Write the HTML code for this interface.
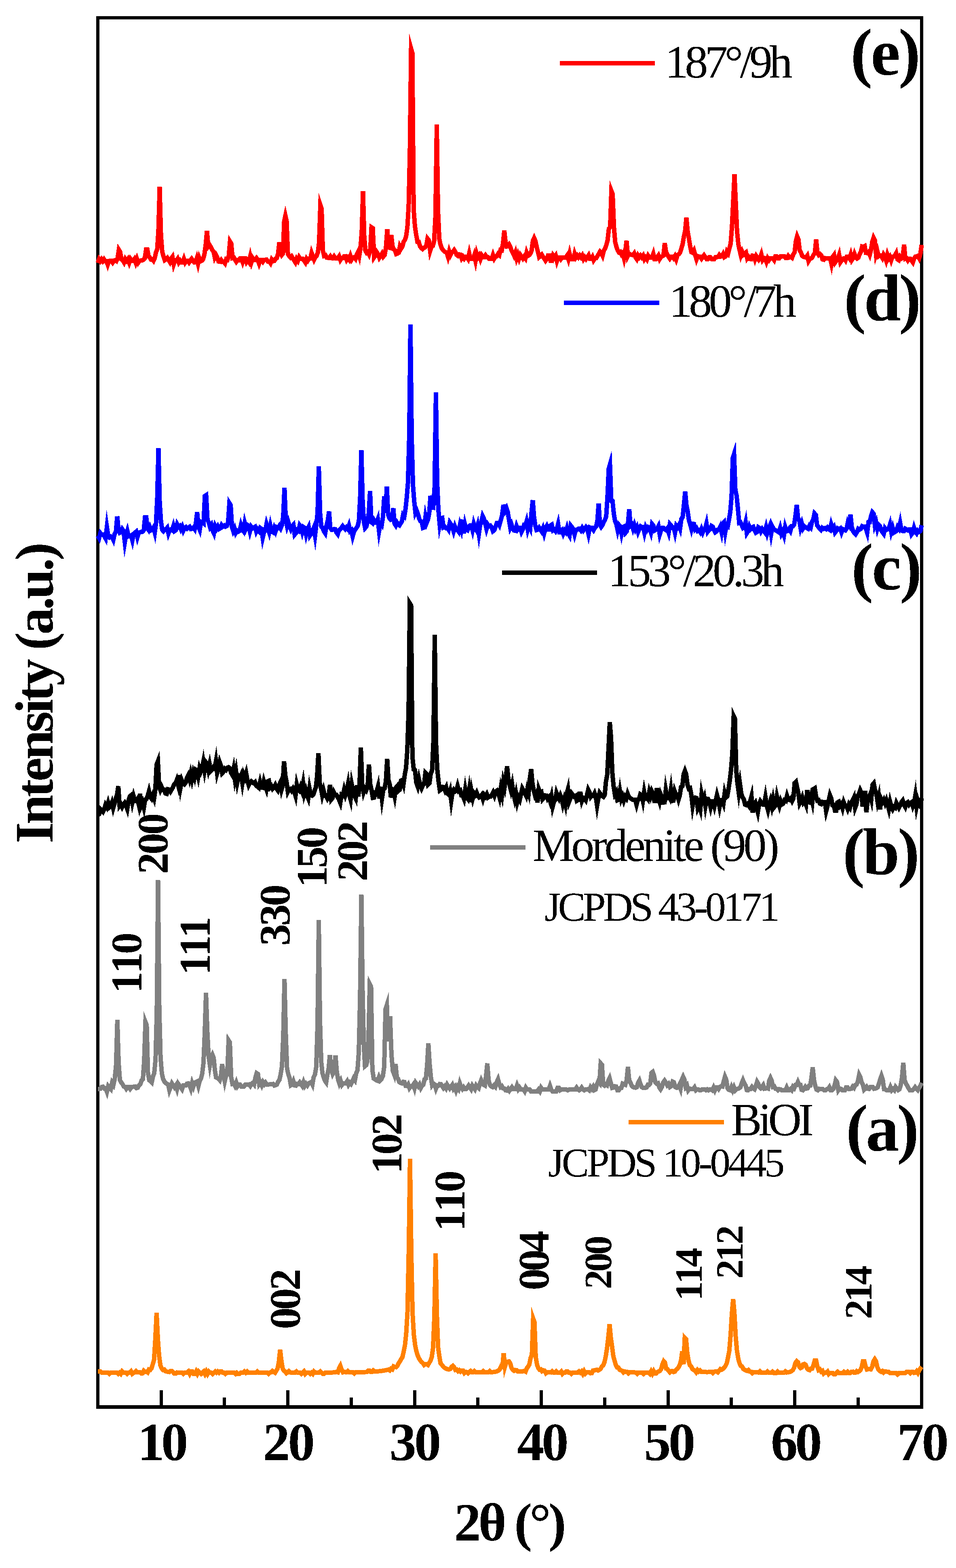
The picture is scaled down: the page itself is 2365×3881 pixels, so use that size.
<!DOCTYPE html>
<html lang="en"><head><meta charset="utf-8"><title>XRD patterns</title>
<style>html,body{margin:0;padding:0;background:#fff;overflow:hidden}svg{display:block}text{font-family:"Liberation Serif","DejaVu Serif",serif;fill:#000;font-kerning:none;font-variant-ligatures:none;white-space:pre}.b{font-weight:bold}</style></head>
<body>
<svg width="2365" height="3881" viewBox="0 0 2365 3881" shape-rendering="crispEdges" text-rendering="geometricPrecision" role="img" aria-label="XRD patterns">
<rect x="0" y="0" width="2365" height="3881" fill="#fff"/>
<defs><filter id="bin" filterUnits="userSpaceOnUse" x="0" y="0" width="2365" height="3881" color-interpolation-filters="sRGB"><feComponentTransfer><feFuncA type="discrete" tableValues="0 1"/></feComponentTransfer></filter></defs>
<g filter="url(#bin)">
<text transform="translate(1644.94,191.50)" font-size="115.00" letter-spacing="-8.319">187°/9h</text>
<text transform="translate(1654.94,783.50)" font-size="115.00" letter-spacing="-8.369">180°/7h</text>
<text transform="translate(1503.74,1450.80)" font-size="115.00" letter-spacing="-8.096">153°/20.3h</text>
<text transform="translate(1317.65,2131.00)" font-size="115.00" letter-spacing="-6.843">Mordenite (90)</text>
<text transform="translate(1347.15,2279.00)" font-size="102.50" letter-spacing="-6.786">JCPDS 43-0171</text>
<text transform="translate(1808.35,2810.00)" font-size="115.00" letter-spacing="-8.375">BiOI</text>
<text transform="translate(1355.87,2911.50)" font-size="101.50" letter-spacing="-5.960">JCPDS 10-0445</text>
<text transform="translate(2103.90,184.50)" font-size="164.50" letter-spacing="-4.695" class="b">(e)</text>
<text transform="translate(2087.40,793.30)" font-size="164.50" letter-spacing="-4.848" class="b">(d)</text>
<text transform="translate(2105.90,1459.00)" font-size="164.50" letter-spacing="-3.895" class="b">(c)</text>
<text transform="translate(2084.40,2164.00)" font-size="164.50" letter-spacing="-5.248" class="b">(b)</text>
<text transform="translate(2092.80,2847.60)" font-size="164.50" letter-spacing="-5.524" class="b">(a)</text>
<text transform="translate(340.32,3614.40)" font-size="133.50" letter-spacing="-8.314" class="b">10</text>
<text transform="translate(650.53,3614.40)" font-size="133.50" letter-spacing="-5.020" class="b">20</text>
<text transform="translate(963.19,3614.40)" font-size="133.50" letter-spacing="-5.287" class="b">30</text>
<text transform="translate(1279.21,3614.40)" font-size="133.50" letter-spacing="-6.000" class="b">40</text>
<text transform="translate(1592.96,3614.40)" font-size="133.50" letter-spacing="-5.954" class="b">50</text>
<text transform="translate(1906.83,3614.40)" font-size="133.50" letter-spacing="-6.621" class="b">60</text>
<text transform="translate(2219.12,3614.40)" font-size="133.50" letter-spacing="-5.718" class="b">70</text>
<text transform="translate(1123.33,3812.60)" font-size="133.50" letter-spacing="-6.942" class="b">2θ (°)</text>
<text transform="translate(130.30,2087.16) rotate(-90)" font-size="134.00" letter-spacing="-6.197" class="b">Intensity (a.u.)</text>
<text transform="translate(349.50,2458.64) rotate(-90)" font-size="108.00" letter-spacing="-5.505" class="b">110</text>
<text transform="translate(414.50,2163.89) rotate(-90)" font-size="108.00" letter-spacing="-5.280" class="b">200</text>
<text transform="translate(518.50,2414.14) rotate(-90)" font-size="108.00" letter-spacing="-7.945" class="b">111</text>
<text transform="translate(716.50,2340.85) rotate(-90)" font-size="108.00" letter-spacing="-5.050" class="b">330</text>
<text transform="translate(808.00,2197.34) rotate(-90)" font-size="108.00" letter-spacing="-5.455" class="b">150</text>
<text transform="translate(907.50,2181.49) rotate(-90)" font-size="108.00" letter-spacing="-6.060" class="b">202</text>
<text transform="translate(741.70,3289.85) rotate(-90)" font-size="108.00" letter-spacing="-6.130" class="b">002</text>
<text transform="translate(993.00,2905.64) rotate(-90)" font-size="108.00" letter-spacing="-6.485" class="b">102</text>
<text transform="translate(1148.80,3048.24) rotate(-90)" font-size="108.00" letter-spacing="-5.355" class="b">110</text>
<text transform="translate(1356.60,3193.85) rotate(-90)" font-size="108.00" letter-spacing="-6.880" class="b">004</text>
<text transform="translate(1512.00,3190.78) rotate(-90)" font-size="96.00" letter-spacing="-5.560" class="b">200</text>
<text transform="translate(1736.40,3219.48) rotate(-90)" font-size="96.00" letter-spacing="-6.420" class="b">114</text>
<text transform="translate(1837.40,3165.38) rotate(-90)" font-size="96.00" letter-spacing="-5.520" class="b">212</text>
<text transform="translate(2155.80,3264.68) rotate(-90)" font-size="96.00" letter-spacing="-5.820" class="b">214</text>
</g>
<rect x="242.0" y="43.5" width="2038.0" height="3438.8" fill="none" stroke="#000" stroke-width="8"/>
<rect x="238" y="3478" width="2046" height="9" fill="#000"/>
<line x1="398.6" y1="3482.3" x2="398.6" y2="3440.8" stroke="#000" stroke-width="8"/>
<line x1="555.3" y1="3482.3" x2="555.3" y2="3458.8" stroke="#000" stroke-width="8"/>
<line x1="712.0" y1="3482.3" x2="712.0" y2="3440.8" stroke="#000" stroke-width="8"/>
<line x1="868.8" y1="3482.3" x2="868.8" y2="3458.8" stroke="#000" stroke-width="8"/>
<line x1="1025.5" y1="3482.3" x2="1025.5" y2="3440.8" stroke="#000" stroke-width="8"/>
<line x1="1182.3" y1="3482.3" x2="1182.3" y2="3458.8" stroke="#000" stroke-width="8"/>
<line x1="1339.0" y1="3482.3" x2="1339.0" y2="3440.8" stroke="#000" stroke-width="8"/>
<line x1="1495.8" y1="3482.3" x2="1495.8" y2="3458.8" stroke="#000" stroke-width="8"/>
<line x1="1652.5" y1="3482.3" x2="1652.5" y2="3440.8" stroke="#000" stroke-width="8"/>
<line x1="1809.3" y1="3482.3" x2="1809.3" y2="3458.8" stroke="#000" stroke-width="8"/>
<line x1="1966.0" y1="3482.3" x2="1966.0" y2="3440.8" stroke="#000" stroke-width="8"/>
<line x1="2122.8" y1="3482.3" x2="2122.8" y2="3458.8" stroke="#000" stroke-width="8"/>
<line x1="1384.5" y1="156.8" x2="1620.0" y2="156.8" stroke="#ff0000" stroke-width="11"/>
<line x1="1395.3" y1="749.0" x2="1631.0" y2="749.0" stroke="#0000ff" stroke-width="11"/>
<line x1="1241.8" y1="1417.2" x2="1477.4" y2="1417.2" stroke="#000000" stroke-width="11"/>
<line x1="1064.0" y1="2097.7" x2="1299.8" y2="2097.7" stroke="#808080" stroke-width="11"/>
<line x1="1555.3" y1="2777.3" x2="1791.0" y2="2777.3" stroke="#ff8000" stroke-width="11"/>
<polyline points="242.0,3394.4 245.2,3394.4 248.3,3394.4 251.5,3397.4 254.6,3397.4 257.8,3397.4 261.0,3397.4 264.1,3397.4 267.3,3397.4 270.4,3400.4 273.6,3397.4 276.8,3397.4 279.9,3397.4 283.1,3397.4 286.3,3397.4 289.4,3397.4 292.6,3400.4 295.7,3397.4 298.9,3400.4 302.1,3394.3 305.2,3397.3 308.4,3397.3 311.5,3397.3 314.7,3400.3 317.9,3397.2 321.0,3397.2 324.2,3394.2 327.3,3400.1 330.5,3397.1 333.7,3397.0 336.8,3393.9 340.0,3396.8 343.1,3396.7 346.3,3396.6 349.5,3399.4 352.6,3399.1 355.8,3392.8 359.0,3395.4 362.1,3394.8 365.3,3397.0 368.4,3389.7 371.6,3390.7 374.8,3387.0 377.9,3376.7 381.1,3365.6 384.2,3315.5 387.4,3249.0 390.6,3315.3 393.7,3356.4 396.9,3379.7 400.0,3387.0 403.2,3390.7 406.3,3389.7 409.5,3394.0 412.6,3394.9 415.8,3395.5 418.9,3395.9 422.1,3393.2 425.2,3393.4 428.4,3396.6 431.5,3399.8 434.7,3399.9 437.8,3397.0 441.0,3397.1 444.1,3397.2 447.3,3397.2 450.4,3397.3 453.6,3400.3 456.7,3397.3 459.9,3397.4 463.0,3397.4 466.2,3394.4 469.3,3400.5 472.5,3394.5 475.6,3394.5 478.8,3400.5 481.9,3400.5 485.1,3394.6 488.2,3400.6 491.4,3394.6 494.5,3397.6 497.7,3400.6 500.8,3397.6 504.0,3394.6 507.1,3400.6 510.3,3394.6 513.4,3400.7 516.6,3394.7 519.7,3397.7 522.9,3397.7 526.0,3400.7 529.2,3397.7 532.3,3394.7 535.5,3397.7 538.6,3394.7 541.8,3397.7 544.9,3394.7 548.1,3394.7 551.2,3397.7 554.4,3397.7 557.5,3400.7 560.7,3397.7 563.8,3397.7 567.0,3397.7 570.1,3397.7 573.3,3397.7 576.4,3397.7 579.6,3397.7 582.7,3400.7 585.9,3397.7 589.0,3400.7 592.2,3400.7 595.3,3397.7 598.5,3397.7 601.6,3397.7 604.8,3394.7 607.9,3397.7 611.1,3394.7 614.2,3397.7 617.4,3397.7 620.5,3397.7 623.7,3397.7 626.8,3397.7 630.0,3397.7 633.1,3397.7 636.3,3394.6 639.4,3397.6 642.6,3397.6 645.7,3397.6 648.9,3397.5 652.0,3397.5 655.2,3397.5 658.3,3397.4 661.5,3397.3 664.6,3400.2 667.8,3397.0 670.9,3396.8 674.1,3393.4 677.2,3395.8 680.4,3397.8 683.5,3392.7 686.7,3387.4 689.8,3370.9 693.0,3341.0 696.1,3367.5 699.2,3387.2 702.3,3392.5 705.4,3394.7 708.5,3398.8 711.6,3396.4 714.7,3393.7 717.8,3397.0 720.9,3397.1 724.0,3397.2 727.1,3397.3 730.2,3397.4 733.4,3394.4 736.5,3397.5 739.6,3397.5 742.7,3397.5 745.8,3400.5 748.9,3397.6 752.0,3394.6 755.1,3400.6 758.2,3397.6 761.3,3397.6 764.4,3397.6 767.5,3400.6 770.6,3397.6 773.7,3400.6 776.8,3394.6 779.9,3397.6 783.0,3397.5 786.1,3397.5 789.2,3397.5 792.3,3394.5 795.4,3397.5 798.5,3400.5 801.6,3400.4 804.8,3397.4 807.9,3397.4 811.0,3397.3 814.1,3397.3 817.2,3397.2 820.3,3397.1 823.4,3397.0 826.5,3396.7 829.6,3396.3 832.7,3395.6 835.8,3396.6 838.9,3386.6 842.0,3380.7 845.1,3389.6 848.3,3396.5 851.4,3395.4 854.5,3396.1 857.7,3396.5 860.8,3393.6 863.9,3396.7 867.1,3396.7 870.2,3396.7 873.3,3396.7 876.5,3399.7 879.6,3396.7 882.7,3396.6 885.9,3396.5 889.0,3396.5 892.1,3396.4 895.3,3396.3 898.4,3396.2 901.5,3396.1 904.7,3396.0 907.8,3395.9 910.9,3392.8 914.1,3392.6 917.2,3395.5 920.3,3395.3 923.5,3392.1 926.6,3394.9 929.7,3394.7 932.8,3394.4 936.0,3394.1 939.1,3393.8 942.2,3393.4 945.4,3393.0 948.5,3392.6 951.6,3392.0 954.8,3391.4 957.9,3390.7 961.0,3389.9 964.2,3392.0 967.3,3387.9 970.4,3389.5 973.6,3382.0 976.7,3383.1 979.8,3383.8 983.0,3380.9 986.1,3374.4 989.2,3369.8 992.4,3364.0 995.5,3359.3 998.6,3345.7 1001.8,3330.0 1004.9,3300.5 1008.0,3248.3 1011.2,3095.5 1014.3,2867.8 1017.5,3101.1 1020.6,3249.8 1023.8,3304.0 1027.0,3329.7 1030.2,3344.9 1033.3,3355.0 1036.5,3362.2 1039.7,3367.4 1042.8,3371.2 1046.0,3373.8 1049.2,3378.6 1052.3,3376.5 1055.5,3376.5 1058.7,3378.5 1061.8,3373.0 1065.0,3368.2 1068.2,3358.5 1071.4,3335.2 1074.5,3259.2 1077.7,3102.0 1080.8,3254.9 1083.8,3334.3 1086.9,3357.0 1089.9,3374.5 1093.0,3377.9 1096.0,3382.0 1099.1,3384.9 1102.1,3386.9 1105.2,3388.3 1108.2,3389.1 1111.2,3389.4 1114.3,3388.3 1117.4,3382.7 1120.4,3380.5 1123.5,3384.1 1126.7,3390.6 1129.8,3389.8 1133.0,3393.8 1136.1,3391.4 1139.2,3394.8 1142.4,3392.2 1145.5,3392.4 1148.7,3398.6 1151.8,3395.8 1154.9,3396.0 1158.1,3399.1 1161.2,3396.2 1164.4,3393.3 1167.5,3396.4 1170.6,3396.5 1173.8,3393.6 1176.9,3396.6 1180.1,3396.7 1183.2,3396.7 1186.3,3396.7 1189.5,3396.8 1192.6,3396.8 1195.8,3393.8 1198.9,3396.8 1202.0,3396.7 1205.2,3396.7 1208.3,3396.6 1211.5,3393.5 1214.6,3396.4 1217.7,3396.2 1220.9,3395.9 1224.0,3395.4 1227.2,3394.8 1230.3,3393.8 1233.4,3392.1 1236.6,3388.8 1239.7,3381.7 1242.9,3382.7 1246.0,3349.7 1249.2,3382.7 1252.5,3371.6 1255.8,3370.3 1259.0,3369.6 1262.2,3374.1 1265.3,3385.7 1268.5,3390.6 1271.6,3392.9 1274.8,3391.0 1277.9,3391.6 1281.1,3394.9 1284.3,3395.0 1287.4,3394.9 1290.6,3394.7 1293.7,3394.1 1296.9,3393.3 1300.1,3395.0 1303.2,3386.7 1306.4,3382.7 1309.5,3377.5 1312.7,3361.2 1315.8,3353.5 1319.0,3263.5 1322.2,3272.5 1325.3,3358.2 1328.5,3377.6 1331.6,3385.9 1334.8,3390.1 1337.9,3389.4 1341.0,3393.9 1344.2,3391.8 1347.3,3392.5 1350.5,3399.0 1353.7,3396.4 1356.8,3396.6 1360.0,3396.8 1363.1,3397.0 1366.2,3394.2 1369.4,3397.3 1372.5,3397.4 1375.7,3394.4 1378.8,3397.5 1382.0,3397.5 1385.2,3397.6 1388.3,3394.6 1391.5,3400.6 1394.6,3397.6 1397.8,3397.7 1400.9,3394.7 1404.0,3394.7 1407.2,3397.7 1410.3,3397.6 1413.5,3400.6 1416.7,3397.6 1419.8,3397.6 1423.0,3397.5 1426.1,3397.5 1429.2,3397.5 1432.4,3394.4 1435.5,3397.3 1438.7,3394.2 1441.8,3400.1 1445.0,3394.0 1448.2,3399.9 1451.3,3396.7 1454.5,3396.5 1457.6,3396.3 1460.8,3399.0 1463.9,3398.7 1467.0,3392.2 1470.2,3391.7 1473.3,3391.0 1476.5,3390.2 1479.7,3392.0 1482.8,3390.4 1486.0,3388.1 1489.1,3381.8 1492.2,3379.7 1495.4,3371.5 1498.5,3357.6 1501.7,3336.8 1504.8,3310.8 1508.0,3277.8 1511.1,3310.8 1514.2,3333.1 1517.3,3357.0 1520.5,3368.0 1523.6,3379.3 1526.7,3384.5 1529.8,3384.9 1532.9,3390.2 1536.0,3391.8 1539.2,3393.0 1542.3,3396.9 1545.4,3394.6 1548.5,3395.2 1551.6,3395.6 1554.7,3399.0 1557.9,3396.2 1561.0,3396.5 1564.1,3396.7 1567.2,3396.8 1570.3,3397.0 1573.4,3397.1 1576.6,3400.2 1579.7,3397.2 1582.8,3397.3 1585.9,3397.3 1589.0,3397.4 1592.1,3400.4 1595.3,3397.4 1598.4,3397.4 1601.5,3397.4 1604.6,3397.3 1607.7,3400.3 1610.8,3394.2 1614.0,3400.1 1617.1,3393.9 1620.2,3399.6 1623.3,3399.3 1626.4,3395.7 1629.5,3394.7 1632.7,3392.8 1635.8,3388.3 1638.9,3376.4 1642.0,3369.3 1645.1,3372.8 1648.1,3387.4 1651.2,3388.6 1654.2,3393.2 1657.3,3396.8 1660.4,3393.9 1663.4,3393.6 1666.5,3395.9 1669.5,3394.9 1672.6,3390.3 1675.6,3387.9 1678.7,3384.1 1681.8,3377.9 1684.8,3367.0 1687.9,3344.4 1690.9,3377.1 1694.0,3311.0 1697.2,3314.3 1700.3,3348.9 1703.5,3368.3 1706.6,3378.9 1709.8,3381.9 1712.9,3388.5 1716.0,3390.8 1719.2,3392.4 1722.3,3396.5 1725.5,3391.2 1728.7,3394.8 1731.8,3392.2 1735.0,3395.5 1738.1,3395.7 1741.2,3395.9 1744.4,3395.9 1747.5,3396.0 1750.7,3396.0 1753.9,3395.9 1757.0,3395.8 1760.2,3395.6 1763.3,3398.4 1766.5,3395.1 1769.6,3394.7 1772.8,3394.2 1775.9,3396.5 1779.0,3392.7 1782.2,3388.6 1785.3,3390.1 1788.5,3388.0 1791.7,3385.0 1794.8,3380.6 1798.0,3373.8 1801.1,3359.6 1804.2,3343.1 1807.4,3304.9 1810.5,3252.2 1813.7,3215.0 1816.8,3249.1 1820.0,3307.8 1823.1,3343.1 1826.3,3362.7 1829.4,3373.9 1832.6,3380.8 1835.7,3382.2 1838.9,3388.2 1842.0,3390.4 1845.2,3391.9 1848.3,3393.1 1851.5,3391.0 1854.6,3394.7 1857.7,3395.2 1860.9,3398.7 1864.0,3396.1 1867.2,3396.4 1870.3,3396.7 1873.5,3396.9 1876.6,3397.1 1879.8,3394.2 1882.9,3397.4 1886.1,3397.5 1889.2,3397.6 1892.3,3397.7 1895.5,3397.7 1898.6,3394.8 1901.8,3397.9 1904.9,3397.9 1908.1,3397.9 1911.2,3395.0 1914.4,3398.0 1917.5,3398.0 1920.7,3398.0 1923.8,3394.9 1927.0,3397.9 1930.1,3397.9 1933.2,3397.8 1936.4,3397.7 1939.5,3397.5 1942.7,3394.3 1945.8,3397.1 1949.0,3396.7 1952.1,3396.1 1955.3,3395.2 1958.4,3393.6 1961.6,3390.8 1964.7,3384.9 1967.9,3372.9 1971.0,3369.0 1974.2,3371.9 1977.3,3382.5 1980.5,3386.1 1983.7,3384.5 1986.8,3377.0 1990.0,3376.0 1993.2,3378.0 1996.4,3386.7 1999.6,3390.4 2002.8,3391.4 2006.1,3387.5 2009.3,3387.2 2012.5,3378.7 2015.7,3367.0 2018.8,3367.0 2022.0,3382.2 2025.1,3391.2 2028.3,3389.5 2031.4,3394.7 2034.5,3392.9 2037.7,3399.7 2040.8,3397.2 2044.0,3397.5 2047.1,3394.8 2050.2,3401.0 2053.4,3398.1 2056.5,3398.2 2059.7,3398.3 2062.8,3401.4 2065.9,3401.5 2069.1,3398.5 2072.2,3395.5 2075.3,3398.5 2078.5,3398.6 2081.6,3398.6 2084.8,3398.6 2087.9,3395.6 2091.0,3398.5 2094.2,3398.5 2097.3,3395.4 2100.5,3398.4 2103.6,3398.3 2106.7,3395.1 2109.9,3395.0 2113.0,3397.7 2116.2,3397.4 2119.3,3393.8 2122.4,3395.9 2125.6,3394.2 2128.7,3390.9 2131.9,3383.0 2135.0,3369.0 2138.2,3369.0 2141.4,3382.7 2144.7,3389.6 2147.9,3388.8 2151.1,3388.6 2154.3,3389.3 2157.6,3383.1 2160.8,3369.3 2164.0,3364.2 2167.1,3369.1 2170.3,3383.4 2173.4,3390.3 2176.5,3393.6 2179.7,3395.4 2182.8,3393.5 2185.9,3397.2 2189.1,3394.6 2192.2,3394.9 2195.4,3395.2 2198.5,3395.4 2201.6,3398.5 2204.8,3398.6 2207.9,3398.7 2211.0,3398.8 2214.2,3398.8 2217.3,3398.9 2220.4,3401.9 2223.6,3398.9 2226.7,3398.9 2229.8,3398.9 2233.0,3399.0 2236.1,3398.9 2239.2,3398.9 2242.4,3395.9 2245.5,3395.9 2248.6,3395.8 2251.8,3398.7 2254.9,3395.6 2258.1,3395.4 2261.2,3398.1 2264.3,3397.6 2267.5,3393.8 2270.6,3398.3 2273.7,3392.3 2276.9,3387.0 2280.0,3383.0" fill="none" stroke="#ff8000" stroke-width="11" stroke-linejoin="miter" stroke-miterlimit="8"/>
<polyline points="242.0,2695.3 245.2,2695.1 248.4,2694.9 251.7,2690.2 254.9,2689.9 258.1,2694.1 261.3,2693.8 264.5,2702.4 267.8,2688.3 271.0,2692.1 274.2,2695.4 277.4,2679.9 280.6,2684.9 283.9,2670.1 287.1,2636.4 290.3,2524.6 293.5,2630.1 296.6,2673.3 299.8,2679.1 302.9,2682.9 306.1,2689.1 309.3,2690.0 312.4,2694.9 315.6,2690.6 318.7,2690.6 321.9,2695.1 325.1,2690.4 328.2,2690.1 331.4,2689.8 334.5,2689.3 337.7,2693.2 340.8,2692.2 344.0,2686.3 347.2,2683.8 350.3,2674.5 353.5,2671.3 356.6,2627.0 359.8,2529.1 362.9,2536.9 366.0,2654.2 369.2,2673.7 372.3,2675.9 375.4,2678.9 378.5,2664.5 381.6,2656.2 384.8,2621.7 387.9,2501.2 391.0,2177.8 394.1,2496.9 397.2,2617.6 400.4,2656.9 403.5,2670.4 406.6,2676.9 409.7,2680.5 412.8,2682.7 416.0,2684.1 419.1,2698.5 422.2,2690.2 425.3,2681.6 428.5,2686.5 431.6,2691.2 434.7,2686.9 437.8,2696.0 440.9,2682.5 444.1,2687.1 447.2,2691.5 450.3,2696.0 453.4,2686.9 456.5,2686.8 459.7,2686.7 462.8,2682.0 465.9,2681.8 469.0,2686.0 472.1,2694.6 475.3,2680.7 478.4,2689.1 481.5,2679.3 484.6,2678.3 487.8,2676.8 490.9,2688.1 494.0,2675.7 497.1,2669.7 500.2,2657.9 503.4,2630.7 506.5,2556.6 509.6,2457.0 512.8,2550.6 516.0,2613.0 519.2,2635.7 522.4,2617.4 525.6,2610.7 528.6,2618.1 531.6,2648.9 534.6,2666.8 537.6,2668.2 540.6,2670.4 543.6,2673.7 546.6,2663.0 549.6,2634.0 552.8,2659.2 556.0,2676.5 559.1,2662.6 562.3,2659.4 565.5,2574.9 568.7,2580.0 571.8,2665.1 575.0,2682.4 578.1,2681.1 581.3,2687.2 584.5,2679.1 587.6,2688.6 590.8,2684.4 593.9,2684.6 597.1,2689.2 600.2,2689.3 603.4,2689.3 606.6,2684.7 609.7,2684.6 612.9,2684.4 616.0,2684.0 619.2,2687.9 622.4,2682.3 625.5,2680.0 628.7,2684.0 631.8,2667.3 635.0,2656.2 638.1,2658.1 641.3,2683.8 644.4,2679.8 647.5,2686.5 650.6,2678.6 653.8,2683.7 656.9,2679.5 660.0,2684.1 663.1,2684.1 666.3,2684.0 669.4,2683.8 672.5,2683.5 675.7,2683.0 678.8,2686.9 681.9,2685.8 685.0,2684.3 688.2,2677.2 691.3,2672.6 694.4,2658.7 697.5,2639.8 700.7,2564.9 703.8,2422.7 706.9,2556.4 710.1,2644.5 713.2,2658.7 716.4,2668.0 719.5,2686.0 722.6,2684.0 725.8,2676.5 728.9,2686.5 732.1,2687.1 735.2,2683.0 738.3,2683.2 741.5,2678.9 744.6,2683.4 747.8,2687.9 750.9,2678.7 754.1,2687.5 757.2,2682.6 760.3,2686.6 763.5,2681.3 766.6,2680.2 769.8,2678.4 772.9,2684.5 776.0,2665.9 779.2,2659.6 782.3,2641.0 785.5,2536.9 788.6,2277.0 791.6,2525.9 794.7,2628.0 797.7,2656.3 800.8,2666.6 803.8,2674.9 806.9,2679.2 809.9,2659.9 813.0,2644.7 816.0,2611.7 819.5,2647.0 823.0,2658.4 826.5,2652.1 830.0,2612.0 833.2,2652.7 836.4,2671.9 839.6,2681.9 842.8,2675.1 846.0,2685.2 849.2,2681.1 852.4,2681.2 855.6,2681.1 858.8,2676.3 862.0,2684.8 865.2,2679.5 868.4,2682.8 871.6,2676.5 874.8,2669.2 878.0,2673.6 881.2,2656.5 884.4,2649.1 887.6,2603.8 890.8,2467.1 894.0,2214.2 897.0,2451.0 899.9,2583.6 902.9,2638.9 905.8,2636.5 908.8,2626.7 911.7,2564.2 914.7,2435.4 918.0,2442.0 921.2,2648.0 924.5,2669.3 927.7,2671.2 931.0,2674.0 934.2,2675.1 937.5,2666.0 940.7,2673.6 944.0,2670.3 947.2,2663.0 950.5,2639.8 953.7,2497.8 957.0,2487.6 959.7,2577.6 962.3,2556.7 965.0,2515.0 968.4,2610.4 971.8,2650.4 975.2,2659.5 978.6,2634.0 981.7,2666.6 984.8,2670.1 988.0,2678.5 991.1,2680.4 994.2,2681.5 997.3,2677.7 1000.4,2678.2 1003.6,2687.7 1006.7,2688.1 1009.8,2683.9 1012.9,2693.2 1016.0,2688.9 1019.1,2689.1 1022.3,2684.7 1025.4,2693.8 1028.5,2680.3 1031.6,2684.8 1034.7,2689.1 1037.9,2684.3 1041.0,2692.7 1044.1,2687.0 1047.2,2684.9 1050.3,2671.5 1053.5,2669.5 1056.6,2637.2 1059.7,2582.0 1062.8,2632.8 1065.9,2665.5 1069.0,2685.8 1072.1,2681.6 1075.3,2684.1 1078.4,2694.5 1081.5,2686.5 1084.6,2687.1 1087.7,2683.1 1090.8,2683.5 1093.9,2688.3 1097.0,2693.1 1100.2,2688.9 1103.3,2693.6 1106.4,2684.8 1109.5,2689.5 1112.6,2694.1 1115.7,2689.8 1118.8,2685.4 1121.9,2694.6 1125.1,2690.2 1128.2,2699.3 1131.3,2690.5 1134.4,2695.1 1137.5,2681.7 1140.6,2690.8 1143.7,2695.4 1146.8,2691.0 1149.9,2695.6 1153.1,2695.7 1156.2,2691.3 1159.3,2686.9 1162.4,2691.4 1165.5,2696.0 1168.6,2687.0 1171.7,2691.4 1174.8,2695.8 1178.0,2686.5 1181.1,2690.4 1184.2,2693.1 1187.3,2682.0 1190.4,2673.6 1193.4,2680.3 1196.4,2685.2 1199.5,2686.8 1202.5,2662.3 1205.5,2632.0 1208.8,2674.7 1212.1,2685.2 1215.4,2689.3 1218.8,2690.7 1222.1,2686.5 1225.4,2689.8 1228.7,2678.7 1232.0,2671.3 1235.1,2682.9 1238.3,2690.6 1241.4,2688.2 1244.5,2693.6 1247.7,2694.1 1250.8,2698.9 1254.0,2699.2 1257.1,2694.9 1260.2,2699.6 1263.4,2695.2 1266.5,2690.9 1269.6,2695.5 1272.8,2695.7 1275.9,2695.8 1279.0,2686.9 1282.2,2696.0 1285.3,2691.7 1288.4,2696.3 1291.6,2696.4 1294.7,2696.5 1297.9,2701.1 1301.0,2692.2 1304.1,2696.7 1307.3,2696.7 1310.4,2696.7 1313.5,2701.2 1316.7,2701.3 1319.8,2701.3 1322.9,2701.3 1326.1,2701.3 1329.2,2701.3 1332.3,2696.8 1335.5,2701.3 1338.6,2692.3 1341.8,2696.8 1344.9,2696.8 1348.0,2696.8 1351.2,2696.8 1354.3,2696.8 1357.4,2696.8 1360.6,2687.8 1363.7,2696.8 1366.8,2701.3 1370.0,2701.2 1373.1,2701.2 1376.2,2701.2 1379.4,2692.2 1382.5,2692.2 1385.7,2698.5 1388.8,2696.7 1391.9,2696.7 1395.1,2696.7 1398.2,2696.7 1401.3,2696.7 1404.5,2698.5 1407.6,2696.7 1410.7,2696.6 1413.9,2696.6 1417.0,2696.6 1420.1,2696.6 1423.3,2696.6 1426.4,2692.0 1429.6,2696.5 1432.7,2698.5 1435.8,2696.4 1439.0,2691.9 1442.1,2696.3 1445.2,2698.5 1448.4,2696.2 1451.5,2696.1 1454.6,2695.9 1457.8,2698.5 1460.9,2691.0 1464.0,2695.1 1467.2,2690.0 1470.3,2698.2 1473.5,2696.6 1476.6,2684.5 1479.7,2677.0 1482.9,2680.7 1486.0,2631.8 1489.1,2635.1 1492.3,2685.0 1495.4,2687.1 1498.6,2684.0 1501.7,2686.1 1504.9,2675.0 1508.0,2668.6 1511.2,2680.8 1514.5,2692.6 1517.7,2691.8 1521.0,2688.7 1524.2,2689.3 1527.5,2698.5 1530.7,2698.4 1533.9,2693.5 1537.2,2692.7 1540.4,2682.1 1543.7,2683.4 1546.9,2685.0 1550.2,2674.0 1553.4,2641.0 1556.5,2674.0 1559.7,2679.7 1562.8,2687.2 1566.0,2690.4 1569.1,2691.8 1572.3,2692.1 1575.4,2690.9 1578.6,2680.0 1581.7,2674.5 1584.7,2683.9 1587.7,2690.9 1590.7,2692.5 1593.7,2692.8 1596.7,2692.4 1599.7,2691.4 1602.7,2684.9 1605.7,2685.4 1608.7,2681.7 1611.7,2655.8 1614.7,2653.0 1618.0,2662.1 1621.2,2679.0 1624.5,2682.1 1627.7,2681.0 1631.0,2691.5 1634.2,2696.2 1637.5,2690.4 1640.7,2679.1 1644.0,2674.6 1647.3,2679.6 1650.7,2686.2 1654.0,2682.8 1657.3,2690.5 1660.7,2688.3 1664.0,2677.4 1667.2,2679.0 1670.5,2690.4 1673.8,2692.1 1677.0,2692.0 1680.2,2685.9 1683.5,2694.7 1686.8,2672.5 1690.0,2665.2 1693.1,2672.0 1696.3,2690.1 1699.4,2686.3 1702.5,2698.5 1705.7,2694.3 1708.8,2695.0 1712.0,2695.4 1715.1,2695.7 1718.2,2691.4 1721.4,2698.5 1724.5,2696.1 1727.6,2696.2 1730.8,2698.5 1733.9,2698.5 1737.0,2696.3 1740.2,2696.4 1743.3,2696.4 1746.5,2698.5 1749.6,2696.4 1752.7,2698.5 1755.9,2696.4 1759.0,2696.3 1762.1,2698.5 1765.3,2691.7 1768.4,2698.5 1771.5,2691.4 1774.7,2691.2 1777.8,2695.3 1781.0,2690.0 1784.1,2688.5 1787.2,2689.2 1790.4,2676.5 1793.5,2664.9 1796.7,2672.3 1799.9,2693.8 1803.0,2697.5 1806.2,2698.5 1809.4,2690.6 1812.6,2698.5 1815.8,2691.0 1818.9,2698.5 1822.1,2695.3 1825.3,2694.8 1828.5,2693.7 1831.6,2690.9 1834.8,2681.4 1838.0,2673.6 1841.2,2681.4 1844.4,2686.3 1847.5,2698.1 1850.7,2698.5 1853.9,2695.0 1857.1,2695.0 1860.3,2690.2 1863.5,2693.9 1866.6,2696.0 1869.8,2687.9 1873.0,2677.5 1876.0,2682.5 1879.0,2691.0 1882.0,2693.6 1885.0,2690.0 1888.0,2685.8 1891.0,2694.7 1894.0,2694.2 1897.0,2693.0 1900.0,2694.1 1903.0,2674.1 1906.0,2667.9 1909.1,2674.7 1912.2,2690.1 1915.3,2688.9 1918.4,2694.7 1921.5,2695.4 1924.5,2698.5 1927.6,2695.9 1930.7,2696.1 1933.8,2698.5 1936.9,2698.5 1940.0,2698.5 1943.1,2698.5 1946.2,2691.6 1949.3,2698.5 1952.4,2698.5 1955.5,2695.7 1958.5,2698.5 1961.6,2690.1 1964.7,2693.3 1967.8,2685.6 1970.9,2685.4 1974.0,2678.0 1977.0,2685.0 1980.1,2685.3 1983.1,2697.4 1986.2,2698.5 1989.2,2694.6 1992.2,2690.1 1995.3,2694.3 1998.3,2693.6 2001.4,2687.2 2004.4,2687.0 2007.5,2667.1 2010.5,2642.0 2013.7,2672.8 2016.8,2687.8 2020.0,2696.8 2023.2,2698.5 2026.4,2694.9 2029.5,2695.4 2032.7,2695.7 2035.9,2695.8 2039.0,2698.5 2042.2,2698.5 2045.4,2695.9 2048.6,2695.7 2051.7,2691.0 2054.9,2698.5 2058.1,2698.4 2061.3,2695.8 2064.4,2686.8 2067.6,2673.8 2070.8,2678.0 2074.0,2698.5 2077.2,2694.0 2080.5,2695.0 2083.7,2698.5 2086.9,2698.5 2090.1,2698.5 2093.3,2691.2 2096.6,2691.2 2099.8,2695.5 2103.0,2695.2 2106.2,2694.8 2109.4,2689.6 2112.6,2692.8 2115.8,2685.7 2119.1,2684.1 2122.3,2676.7 2125.5,2660.2 2128.6,2666.5 2131.6,2678.6 2134.7,2685.0 2137.7,2696.8 2140.8,2693.7 2143.9,2690.0 2146.9,2694.9 2150.0,2695.2 2153.1,2690.8 2156.1,2690.8 2159.2,2690.6 2162.2,2694.9 2165.3,2694.3 2168.4,2693.3 2171.4,2691.2 2174.5,2681.6 2177.5,2671.3 2180.6,2662.7 2183.8,2672.2 2187.0,2695.7 2190.1,2696.1 2193.3,2698.5 2196.5,2698.5 2199.7,2698.5 2202.8,2690.8 2206.0,2698.5 2209.2,2695.4 2212.4,2698.5 2215.5,2690.5 2218.7,2694.5 2221.9,2698.0 2225.1,2695.9 2228.2,2685.9 2231.4,2667.8 2234.6,2630.0 2237.8,2673.0 2241.1,2681.9 2244.3,2687.1 2247.6,2693.7 2250.8,2698.5 2254.1,2698.5 2257.3,2698.5 2260.5,2695.6 2263.8,2691.0 2267.0,2695.2 2270.3,2698.5 2273.5,2692.8 2276.8,2687.6 2280.0,2680.0" fill="none" stroke="#808080" stroke-width="11" stroke-linejoin="miter" stroke-miterlimit="8"/>
<polyline points="242.0,2017.9 245.2,2015.3 248.3,2002.7 251.5,2006.1 254.7,2009.5 257.8,2002.9 261.0,1992.3 264.2,1997.7 267.4,1987.1 270.5,1998.4 273.7,1995.7 276.9,1987.0 280.0,2000.2 283.2,1989.1 286.4,1977.0 289.5,1967.8 292.7,1946.0 295.9,1994.6 299.0,1990.6 302.2,1997.5 305.3,1991.4 308.5,1987.1 311.6,1992.7 314.8,2002.1 318.0,1981.6 321.1,1971.1 324.3,1968.5 327.4,1985.9 330.6,1971.3 333.8,1982.7 336.9,1982.1 340.1,1977.5 343.2,1990.9 346.4,1964.3 349.5,1993.7 352.7,1986.3 355.9,1998.9 359.0,1979.4 362.2,1977.8 365.3,1970.2 368.5,1958.6 371.7,1972.8 374.8,1976.8 378.0,1968.3 381.1,1976.6 384.3,1955.2 387.4,1892.3 390.6,1884.2 393.7,1945.8 396.8,1955.3 400.0,1948.0 403.1,1954.9 406.2,1954.6 409.3,1963.8 412.4,1964.8 415.6,1953.6 418.7,1954.4 421.8,1959.1 424.9,1953.8 428.0,1948.4 431.2,1940.8 434.3,1938.7 437.4,1930.5 440.5,1942.4 443.6,1918.2 446.8,1948.0 449.9,1931.9 453.0,1939.7 456.1,1941.5 459.2,1937.3 462.4,1925.2 465.5,1919.0 468.6,1928.8 471.7,1914.8 474.8,1928.9 478.0,1913.1 481.1,1923.2 484.2,1905.3 487.3,1907.5 490.4,1921.6 493.6,1901.7 496.7,1909.8 499.8,1902.0 502.9,1886.1 506.0,1906.2 509.2,1886.4 512.3,1890.3 515.4,1904.9 518.5,1891.6 521.6,1908.2 524.8,1904.8 527.9,1899.4 531.0,1902.1 534.1,1884.7 537.2,1913.3 540.4,1901.9 543.5,1886.6 546.6,1895.2 549.7,1913.8 552.8,1910.4 556.0,1903.0 559.1,1905.7 562.2,1900.3 565.3,1898.9 568.4,1901.5 571.6,1912.6 574.7,1918.0 577.8,1903.5 580.9,1926.9 584.0,1910.4 587.2,1935.8 590.3,1921.3 593.4,1924.7 596.5,1918.2 599.6,1937.7 602.8,1917.1 605.9,1924.6 609.0,1914.0 612.1,1931.5 615.2,1942.9 618.4,1936.4 621.5,1933.8 624.6,1937.3 627.7,1938.7 630.8,1935.9 634.0,1944.6 637.1,1947.2 640.2,1949.8 643.3,1936.4 646.4,1949.0 649.6,1949.6 652.7,1934.2 655.8,1944.8 658.9,1953.4 662.0,1934.0 665.2,1932.6 668.3,1949.2 671.4,1945.8 674.5,1952.3 677.6,1948.9 680.8,1943.3 683.9,1951.8 687.0,1956.0 690.1,1944.1 693.2,1937.4 696.4,1954.6 699.5,1943.7 702.6,1884.0 705.8,1919.2 708.9,1935.2 712.1,1959.2 715.2,1953.0 718.4,1952.3 721.5,1957.2 724.7,1952.0 727.8,1958.8 731.0,1969.5 734.1,1942.1 737.3,1954.8 740.4,1957.4 743.6,1948.0 746.7,1956.7 749.9,1939.3 753.0,1965.4 756.2,1955.6 759.3,1967.7 762.5,1975.8 765.6,1951.8 768.8,1967.7 771.9,1969.4 775.1,1966.8 778.2,1957.1 781.4,1948.5 784.5,1921.0 787.7,1864.0 790.9,1937.8 794.1,1951.4 797.2,1968.4 800.4,1956.4 803.6,1969.5 806.8,1970.1 810.0,1976.6 813.2,1970.8 816.3,1942.9 819.5,1979.0 822.7,1975.1 825.9,1961.1 829.1,1967.2 832.2,1967.2 835.4,1973.2 838.6,1979.2 841.8,1987.2 845.0,1967.2 848.2,1969.2 851.3,1955.1 854.5,1967.1 857.7,1957.0 860.9,1940.9 864.1,1966.8 867.2,1978.6 870.4,1942.3 873.6,1957.9 876.8,1969.2 880.0,1976.1 883.2,1943.7 886.3,1971.5 889.5,1939.4 892.7,1850.0 896.0,1941.1 899.4,1961.1 902.7,1951.4 906.0,1956.1 909.4,1947.4 912.7,1892.0 915.9,1941.1 919.1,1955.4 922.4,1974.9 925.6,1974.2 928.8,1960.7 932.0,1958.8 935.2,1946.7 938.5,1976.4 941.7,1947.8 944.9,1976.8 948.1,1954.8 951.4,1951.6 954.6,1934.3 957.8,1878.0 960.9,1930.1 964.0,1941.4 967.1,1973.9 970.2,1953.1 973.4,1955.1 976.5,1970.5 979.6,1949.3 982.7,1945.7 985.8,1957.4 988.9,1954.4 992.0,1932.3 995.1,1930.6 998.2,1940.7 1001.4,1917.1 1004.5,1900.6 1007.6,1856.6 1010.7,1764.1 1013.8,1493.2 1017.0,1498.3 1020.2,1872.0 1023.5,1904.5 1026.7,1906.2 1029.9,1937.1 1033.2,1946.3 1036.4,1929.1 1039.6,1944.1 1042.8,1951.4 1046.0,1943.9 1049.3,1940.3 1052.5,1912.5 1055.8,1915.8 1059.1,1941.5 1062.4,1938.1 1065.6,1914.6 1068.9,1907.2 1072.2,1834.8 1075.5,1571.0 1078.6,1836.9 1081.8,1904.3 1084.9,1934.4 1088.1,1956.4 1091.2,1954.1 1094.3,1947.7 1097.5,1948.2 1100.6,1955.9 1103.8,1949.2 1106.9,1964.2 1110.0,1967.0 1113.2,1957.7 1116.3,1982.2 1119.5,1960.6 1122.6,1955.0 1125.7,1959.3 1128.9,1957.6 1132.0,1945.8 1135.2,1958.0 1138.3,1956.2 1141.4,1968.4 1144.6,1968.5 1147.7,1976.7 1150.9,1954.8 1154.0,1972.9 1157.1,1977.0 1160.3,1957.1 1163.4,1985.2 1166.6,1959.3 1169.7,1975.4 1172.9,1963.4 1176.0,1967.5 1179.1,1961.6 1182.3,1969.6 1185.4,1973.7 1188.6,1971.7 1191.7,1967.7 1194.8,1977.8 1198.0,1967.8 1201.1,1971.8 1204.3,1965.8 1207.4,1973.8 1210.5,1971.8 1213.7,1971.7 1216.8,1967.6 1220.0,1961.5 1223.1,1969.4 1226.2,1959.2 1229.4,1956.8 1232.5,1962.3 1235.7,1973.6 1238.8,1952.3 1241.9,1966.1 1245.1,1935.7 1248.2,1947.9 1251.4,1924.0 1254.5,1897.0 1257.6,1927.9 1260.8,1943.9 1263.9,1955.8 1267.0,1942.2 1270.2,1964.5 1273.3,1977.8 1276.4,1964.6 1279.6,1985.1 1282.7,1973.4 1285.8,1979.5 1288.9,1965.6 1292.1,1951.5 1295.2,1957.2 1298.3,1962.6 1301.5,1969.5 1304.6,1953.2 1307.7,1963.1 1310.9,1925.8 1314.0,1904.0 1317.1,1938.2 1320.3,1955.8 1323.4,1968.2 1326.5,1962.9 1329.7,1986.3 1332.8,1953.1 1336.0,1961.7 1339.1,1960.1 1342.2,1978.4 1345.4,1974.7 1348.5,1968.9 1351.6,1969.1 1354.8,1977.3 1357.9,1973.5 1361.1,1983.7 1364.2,1971.8 1367.3,1996.0 1370.5,1984.1 1373.6,1980.3 1376.7,1962.4 1379.9,1970.5 1383.0,1976.7 1386.2,1968.8 1389.3,1976.9 1392.4,1991.1 1395.6,1979.2 1398.7,1991.3 1401.8,1965.4 1405.0,1953.5 1408.1,1983.6 1411.2,1975.7 1414.4,1963.9 1417.5,1968.0 1420.7,1972.1 1423.8,1970.1 1426.9,1982.2 1430.1,1980.3 1433.2,1964.4 1436.3,1964.5 1439.5,1982.5 1442.6,1974.6 1445.8,1976.6 1448.9,1980.7 1452.0,1968.6 1455.2,1954.5 1458.3,1960.4 1461.4,1972.2 1464.6,1968.0 1467.7,1969.7 1470.9,1963.4 1474.0,1972.9 1477.1,1994.3 1480.3,1975.5 1483.4,1962.4 1486.5,1966.7 1489.7,1970.2 1492.8,1972.3 1496.0,1967.4 1499.1,1934.1 1502.2,1917.7 1505.4,1852.6 1508.5,1787.0 1511.7,1827.0 1514.8,1912.2 1518.0,1946.5 1521.1,1965.7 1524.3,1960.6 1527.4,1980.6 1530.6,1979.1 1533.7,1958.8 1536.9,1977.9 1540.0,1970.8 1543.2,1981.4 1546.3,1971.9 1549.5,1976.3 1552.6,1964.6 1555.8,1972.9 1558.9,1975.1 1562.1,1977.3 1565.2,1979.4 1568.4,1979.6 1571.5,1979.7 1574.7,1991.8 1577.8,1979.9 1581.0,1977.9 1584.1,1966.0 1587.3,1968.1 1590.4,1982.1 1593.6,1960.2 1596.7,1976.2 1599.9,1974.2 1603.0,1978.3 1606.2,1960.3 1609.3,1970.3 1612.5,1958.3 1615.6,1964.3 1618.8,1982.3 1621.9,1982.3 1625.1,1950.3 1628.2,1974.3 1631.4,1984.2 1634.5,1966.2 1637.7,1974.1 1640.8,1986.1 1644.0,1986.0 1647.1,1955.8 1650.3,1973.7 1653.4,1969.5 1656.6,1975.2 1659.7,1954.8 1662.9,1982.4 1666.0,1981.7 1669.2,1958.9 1672.3,1967.6 1675.5,1967.8 1678.6,1978.9 1681.8,1968.1 1684.9,1947.6 1688.1,1946.0 1691.2,1916.4 1694.4,1907.9 1697.6,1916.6 1700.7,1942.4 1703.9,1952.1 1707.1,1950.8 1710.3,1967.7 1713.4,1994.8 1716.6,1976.8 1719.8,1974.3 1723.0,1975.3 1726.1,2000.1 1729.3,1992.8 1732.5,2003.3 1735.7,1965.8 1738.8,1980.2 1742.0,1972.5 1745.2,1994.8 1748.4,1977.0 1751.5,1977.2 1754.7,1983.4 1757.9,1997.6 1761.0,1983.7 1764.2,1983.8 1767.4,1995.8 1770.6,1981.7 1773.7,1967.6 1776.9,1979.4 1780.1,1997.1 1783.3,1980.6 1786.4,1979.8 1789.6,1988.6 1792.8,1962.8 1796.0,1973.9 1799.1,1971.2 1802.3,1952.9 1805.5,1930.8 1808.7,1903.7 1811.8,1862.4 1815.0,1772.4 1818.1,1779.0 1821.3,1905.6 1824.4,1939.5 1827.6,1962.2 1830.7,1941.1 1833.9,1964.3 1837.0,1973.7 1840.1,1978.0 1843.3,1991.6 1846.4,1992.9 1849.6,1989.9 1852.7,1994.5 1855.9,1983.0 1859.0,1971.4 1862.1,2011.7 1865.3,1990.0 1868.4,1986.2 1871.6,1998.4 1874.7,2010.5 1877.9,1990.7 1881.0,1982.8 1884.1,1986.9 1887.3,1991.0 1890.4,1991.0 1893.6,1973.1 1896.7,1993.2 1899.9,2005.2 1903.0,1991.2 1906.1,1981.3 1909.3,1995.3 1912.4,1979.3 1915.6,1997.3 1918.7,1993.3 1921.9,1971.3 1925.0,1985.3 1928.1,1995.2 1931.3,1983.1 1934.4,1991.0 1937.6,1988.9 1940.7,1980.7 1943.9,1982.4 1947.0,1970.0 1950.1,1979.3 1953.3,1980.2 1956.4,1976.3 1959.6,1982.6 1962.7,1976.2 1965.9,1937.9 1969.0,1935.1 1972.1,1949.6 1975.2,1964.0 1978.3,1988.4 1981.5,1982.1 1984.6,1974.0 1987.7,1987.0 1990.8,1983.5 1993.9,1991.7 1997.0,1955.7 2000.1,1985.3 2003.2,1986.3 2006.4,1972.2 2009.5,1985.1 2012.6,1953.0 2015.7,1951.0 2018.8,1971.2 2021.9,1981.5 2025.1,1980.7 2028.2,1989.0 2031.3,1990.2 2034.4,1984.8 2037.5,1985.3 2040.7,1985.5 2043.8,2007.7 2046.9,1995.9 2050.0,1982.0 2053.1,1968.1 2056.3,1976.2 2059.4,1992.2 2062.5,1992.3 2065.6,2006.3 2068.7,2006.3 2071.8,1986.3 2075.0,1984.4 2078.1,1994.4 2081.2,1990.3 2084.3,2000.3 2087.4,1986.3 2090.6,1994.3 2093.7,1994.2 2096.8,2002.1 2099.9,1992.0 2103.0,1997.8 2106.2,1985.5 2109.3,1981.1 2112.4,1974.4 2115.5,1999.3 2118.6,1991.0 2121.8,1969.6 2124.9,1965.1 2128.0,1955.8 2131.0,1962.3 2134.1,1996.6 2137.1,1975.8 2140.2,1957.7 2143.2,2010.2 2146.3,1983.7 2149.3,1974.2 2152.4,1966.6 2155.4,1978.3 2158.5,1942.4 2161.5,1938.8 2164.6,1955.3 2167.7,1963.4 2170.9,1983.7 2174.0,1971.5 2177.1,2003.4 2180.2,1978.6 2183.3,1985.3 2186.4,1979.8 2189.6,1988.1 2192.7,1980.4 2195.8,1990.6 2198.9,2002.7 2202.0,1984.8 2205.2,1996.9 2208.3,2003.0 2211.4,1997.1 2214.5,1999.2 2217.6,1987.2 2220.8,1993.3 2223.9,1999.3 2227.0,1993.3 2230.1,1985.4 2233.2,1981.4 2236.3,1991.4 2239.5,1997.4 2242.6,1987.5 2245.7,1985.5 2248.8,1991.5 2251.9,1987.5 2255.1,1985.4 2258.2,1995.4 2261.3,1987.3 2264.4,1969.2 2267.5,1996.9 2270.6,1982.4 2273.8,1993.0 2276.9,1996.6 2280.0,1975.0" fill="none" stroke="#000000" stroke-width="11" stroke-linejoin="miter" stroke-miterlimit="8"/>
<polyline points="242.0,1325.8 245.2,1331.6 248.4,1319.5 251.6,1323.3 254.8,1323.1 258.0,1326.9 261.2,1332.7 264.4,1304.5 267.6,1326.3 270.8,1330.0 274.0,1327.6 277.2,1329.0 280.4,1336.0 283.6,1321.5 286.8,1315.7 290.0,1278.0 293.1,1311.0 296.3,1318.6 299.4,1316.9 302.5,1309.7 305.6,1314.0 308.8,1342.1 311.9,1324.0 315.0,1314.0 318.1,1327.9 321.3,1327.7 324.4,1325.6 327.5,1337.4 330.7,1321.1 333.8,1318.5 336.9,1315.9 340.0,1329.3 343.2,1318.5 346.3,1317.6 349.4,1316.3 352.5,1316.1 355.7,1312.5 358.8,1280.0 361.8,1280.0 364.8,1307.6 367.9,1312.2 370.9,1304.9 373.9,1312.2 376.9,1310.6 379.9,1305.6 382.9,1317.5 386.0,1294.5 389.0,1232.1 392.0,1109.0 395.1,1243.4 398.2,1289.8 401.3,1311.5 404.3,1314.6 407.4,1310.8 410.5,1309.8 413.6,1306.2 416.7,1320.3 419.8,1312.2 422.9,1310.3 426.0,1312.3 429.0,1302.3 432.1,1314.2 435.2,1312.1 438.3,1298.0 441.4,1303.9 444.5,1301.7 447.6,1309.5 450.7,1303.4 453.7,1313.2 456.8,1307.0 459.9,1304.7 463.0,1308.5 466.1,1306.2 469.2,1303.9 472.3,1309.5 475.4,1308.9 478.4,1306.0 481.5,1310.0 484.6,1294.6 487.7,1268.0 490.9,1303.8 494.1,1311.5 497.3,1291.5 500.4,1292.8 503.6,1295.3 506.8,1227.9 510.0,1225.7 513.2,1286.2 516.4,1293.0 519.6,1304.3 522.8,1299.4 526.0,1313.0 529.2,1319.9 532.4,1302.5 535.6,1308.9 538.8,1303.2 541.9,1309.4 545.1,1307.5 548.3,1299.5 551.5,1303.3 554.7,1300.8 557.9,1303.5 561.1,1301.8 564.3,1292.1 567.5,1245.2 570.7,1250.3 573.8,1304.3 577.0,1314.4 580.2,1308.0 583.3,1318.9 586.5,1313.4 589.7,1315.8 592.9,1314.1 596.0,1300.3 599.2,1310.5 602.4,1314.7 605.5,1294.8 608.7,1307.0 611.9,1299.2 615.0,1301.3 618.2,1315.4 621.4,1303.6 624.6,1307.7 627.7,1305.9 630.9,1304.0 634.1,1316.1 637.2,1310.3 640.4,1314.4 643.6,1306.5 646.7,1308.6 649.9,1330.8 653.1,1316.9 656.3,1313.0 659.4,1297.1 662.6,1307.2 665.8,1317.3 668.9,1301.3 672.1,1315.4 675.3,1317.4 678.4,1307.4 681.6,1315.2 684.8,1305.0 688.0,1306.5 691.1,1301.6 694.3,1307.4 697.5,1299.5 700.6,1278.4 703.8,1207.0 706.9,1286.3 710.1,1301.8 713.2,1292.0 716.4,1302.5 719.5,1309.7 722.7,1302.5 725.8,1299.0 729.0,1323.3 732.1,1319.6 735.2,1311.8 738.4,1314.0 741.5,1300.1 744.7,1304.3 747.8,1316.4 751.0,1304.5 754.1,1306.6 757.3,1322.6 760.4,1310.5 763.5,1304.2 766.7,1325.8 769.8,1321.3 773.0,1314.4 776.1,1306.9 779.3,1325.8 782.4,1299.8 785.6,1270.1 788.7,1154.2 791.9,1270.2 795.0,1303.3 798.2,1306.8 801.4,1315.3 804.5,1319.8 807.7,1300.5 810.8,1288.6 814.0,1266.0 817.1,1306.4 820.2,1311.0 823.2,1311.0 826.3,1309.7 829.4,1310.0 832.5,1318.2 835.5,1322.2 838.6,1312.2 841.7,1310.1 844.8,1306.0 847.8,1301.9 850.9,1305.7 854.0,1309.5 857.1,1305.3 860.2,1309.1 863.2,1300.8 866.3,1314.4 869.4,1312.0 872.5,1327.4 875.5,1316.5 878.6,1311.1 881.7,1306.8 884.8,1302.0 887.8,1290.0 890.9,1233.3 894.0,1114.5 897.1,1240.3 900.1,1290.2 903.2,1307.0 906.3,1303.5 909.4,1290.6 912.4,1268.1 915.5,1215.0 918.7,1292.4 921.9,1295.1 925.1,1287.7 928.3,1293.2 931.5,1293.6 934.6,1285.4 937.8,1314.5 941.0,1296.7 944.2,1300.1 947.4,1279.6 950.6,1228.0 953.8,1267.8 957.0,1204.0 960.2,1273.6 963.4,1282.7 966.6,1286.5 969.8,1285.3 973.0,1258.0 976.0,1296.1 979.1,1300.8 982.1,1293.7 985.1,1298.6 988.1,1300.4 991.2,1295.2 994.2,1290.7 997.2,1274.5 1000.3,1277.9 1003.3,1259.2 1006.3,1231.0 1009.3,1193.3 1012.4,1076.9 1015.4,803.2 1018.5,1079.7 1021.6,1199.7 1024.7,1240.3 1027.8,1269.9 1030.9,1264.1 1034.0,1272.3 1037.1,1284.1 1040.2,1290.1 1043.3,1290.9 1046.4,1306.7 1049.5,1305.6 1052.6,1279.4 1055.7,1293.5 1058.8,1285.9 1061.9,1269.5 1065.0,1227.0 1068.3,1255.9 1071.7,1256.5 1075.1,1206.1 1078.4,971.0 1081.5,1194.0 1084.6,1263.0 1087.8,1298.3 1090.9,1283.1 1094.0,1282.1 1097.1,1305.2 1100.3,1303.4 1103.4,1306.9 1106.5,1306.1 1109.6,1310.9 1112.8,1293.6 1115.9,1298.1 1119.0,1304.6 1122.1,1314.9 1125.3,1303.2 1128.4,1311.4 1131.5,1311.6 1134.6,1315.8 1137.8,1299.9 1140.9,1310.0 1144.0,1286.1 1147.1,1320.2 1150.3,1298.3 1153.4,1310.3 1156.5,1312.3 1159.6,1304.3 1162.8,1300.3 1165.9,1300.3 1169.0,1312.2 1172.1,1296.0 1175.3,1305.8 1178.4,1311.4 1181.5,1300.8 1184.6,1321.4 1187.8,1299.8 1190.9,1291.8 1194.0,1277.6 1197.2,1284.1 1200.4,1295.8 1203.6,1309.2 1206.8,1298.4 1209.9,1302.9 1213.1,1301.1 1216.3,1305.1 1219.5,1314.9 1222.7,1312.4 1225.9,1303.7 1229.1,1294.4 1232.2,1294.2 1235.4,1299.9 1238.6,1288.7 1241.8,1276.7 1245.0,1254.0 1247.7,1253.7 1250.3,1263.3 1253.0,1258.1 1256.1,1267.5 1259.2,1287.1 1262.3,1305.6 1265.4,1298.5 1268.5,1308.1 1271.6,1313.1 1274.7,1313.7 1277.8,1302.1 1280.9,1310.4 1284.0,1306.6 1287.0,1306.7 1290.1,1316.7 1293.2,1310.6 1296.3,1300.4 1299.4,1302.1 1302.5,1291.4 1305.6,1310.1 1308.7,1299.3 1311.8,1306.4 1314.9,1268.9 1318.0,1238.0 1321.1,1279.5 1324.3,1300.9 1327.4,1311.8 1330.5,1310.7 1333.7,1306.1 1336.8,1310.9 1339.9,1315.4 1343.1,1307.8 1346.2,1320.0 1349.3,1308.2 1352.5,1302.4 1355.6,1310.5 1358.8,1310.6 1361.9,1300.7 1365.0,1298.7 1368.2,1312.8 1371.3,1310.9 1374.4,1314.9 1377.6,1309.0 1380.7,1297.0 1383.8,1317.1 1387.0,1317.1 1390.1,1313.1 1393.2,1321.1 1396.4,1313.2 1399.5,1317.2 1402.6,1307.2 1405.8,1319.2 1408.9,1325.2 1412.0,1301.1 1415.2,1305.1 1418.3,1311.1 1421.4,1323.1 1424.6,1311.0 1427.7,1311.0 1430.8,1308.9 1434.0,1308.9 1437.1,1312.8 1440.2,1306.7 1443.4,1312.6 1446.5,1308.5 1449.7,1304.3 1452.8,1308.1 1455.9,1321.9 1459.1,1305.6 1462.2,1307.2 1465.3,1306.7 1468.5,1311.9 1471.6,1306.4 1474.7,1303.2 1477.9,1289.1 1481.0,1246.0 1484.1,1298.6 1487.2,1304.1 1490.3,1299.9 1493.4,1292.2 1496.6,1286.7 1499.7,1277.9 1502.8,1230.2 1505.9,1160.4 1509.0,1149.6 1512.2,1239.6 1515.3,1240.3 1518.5,1271.5 1521.7,1290.2 1524.9,1298.0 1528.0,1312.4 1531.2,1299.2 1534.4,1303.0 1537.6,1320.2 1540.7,1305.0 1543.9,1303.3 1547.1,1319.1 1550.3,1315.4 1553.4,1298.9 1556.6,1260.0 1559.7,1301.3 1562.9,1298.4 1566.0,1308.6 1569.2,1299.5 1572.3,1310.0 1575.5,1304.3 1578.6,1316.5 1581.8,1308.7 1584.9,1302.8 1588.1,1304.8 1591.2,1304.9 1594.3,1319.0 1597.5,1305.0 1600.6,1311.0 1603.8,1305.0 1606.9,1307.1 1610.1,1317.1 1613.2,1297.1 1616.4,1301.0 1619.5,1313.0 1622.7,1311.0 1625.8,1309.0 1628.9,1302.9 1632.1,1322.8 1635.2,1312.8 1638.4,1306.7 1641.5,1306.6 1644.7,1310.4 1647.8,1312.3 1651.0,1308.0 1654.1,1317.8 1657.3,1297.4 1660.4,1301.0 1663.5,1306.5 1666.7,1305.7 1669.8,1318.7 1673.0,1301.2 1676.1,1305.1 1679.3,1299.7 1682.4,1308.1 1685.6,1284.4 1688.7,1280.4 1691.9,1250.0 1695.0,1217.0 1698.1,1250.0 1701.2,1265.7 1704.3,1287.8 1707.4,1297.7 1710.5,1309.3 1713.6,1296.7 1716.7,1296.9 1719.8,1310.4 1722.9,1307.4 1726.0,1314.2 1729.1,1312.7 1732.2,1317.1 1735.3,1309.4 1738.4,1317.6 1741.5,1309.8 1744.6,1307.9 1747.7,1296.0 1750.8,1316.0 1753.9,1312.0 1757.1,1310.0 1760.2,1301.9 1763.3,1303.8 1766.4,1311.7 1769.5,1317.5 1772.6,1315.2 1775.7,1310.9 1778.8,1310.4 1781.9,1303.8 1785.0,1317.0 1788.1,1296.0 1791.2,1292.5 1794.3,1316.3 1797.4,1299.1 1800.5,1301.9 1803.6,1285.0 1806.7,1266.2 1809.8,1228.8 1812.9,1133.2 1816.0,1123.6 1819.2,1213.6 1822.3,1226.8 1825.5,1259.6 1828.7,1294.0 1831.8,1292.7 1835.0,1299.7 1838.1,1306.9 1841.3,1305.0 1844.5,1292.5 1847.6,1319.5 1850.8,1314.3 1854.0,1303.0 1857.1,1309.4 1860.3,1305.8 1863.4,1304.1 1866.6,1312.4 1869.8,1318.6 1872.9,1316.8 1876.1,1304.9 1879.3,1307.0 1882.4,1315.1 1885.6,1309.2 1888.8,1313.3 1891.9,1317.4 1895.1,1305.4 1898.2,1319.5 1901.4,1309.5 1904.6,1301.5 1907.7,1321.5 1910.9,1303.6 1914.1,1309.6 1917.2,1311.6 1920.4,1313.5 1923.6,1315.5 1926.7,1317.5 1929.9,1307.4 1933.0,1321.3 1936.2,1315.2 1939.4,1325.1 1942.5,1304.8 1945.7,1314.5 1948.9,1314.1 1952.0,1309.4 1955.2,1314.3 1958.3,1302.4 1961.5,1302.6 1964.7,1298.1 1967.8,1277.5 1971.0,1250.0 1974.1,1281.2 1977.3,1287.8 1980.4,1306.3 1983.6,1296.0 1986.7,1307.8 1989.9,1302.7 1993.0,1305.1 1996.1,1307.1 1999.3,1308.8 2002.4,1301.7 2005.6,1305.4 2008.7,1291.7 2011.9,1285.7 2015.0,1270.8 2018.2,1274.2 2021.4,1300.2 2024.5,1304.1 2027.7,1308.5 2030.9,1311.8 2034.1,1306.5 2037.2,1309.0 2040.4,1307.3 2043.6,1309.5 2046.8,1305.6 2050.0,1309.7 2053.1,1311.8 2056.3,1297.9 2059.5,1307.9 2062.7,1303.9 2065.9,1318.0 2069.0,1314.0 2072.2,1307.9 2075.4,1309.9 2078.6,1307.8 2081.8,1317.7 2084.9,1309.5 2088.1,1311.2 2091.3,1312.7 2094.5,1307.6 2097.6,1292.7 2100.8,1298.7 2104.0,1274.0 2107.2,1304.6 2110.4,1314.5 2113.5,1319.4 2116.7,1322.4 2119.9,1316.9 2123.1,1309.0 2126.2,1311.1 2129.4,1309.0 2132.6,1302.7 2135.8,1304.3 2138.9,1303.7 2142.1,1308.6 2145.3,1318.6 2148.5,1292.9 2151.6,1292.9 2154.8,1277.3 2158.0,1267.7 2161.1,1271.0 2164.3,1300.6 2167.4,1292.8 2170.5,1308.6 2173.6,1298.6 2176.8,1301.8 2179.9,1312.6 2183.0,1317.1 2186.2,1321.4 2189.3,1307.7 2192.4,1311.8 2195.5,1310.0 2198.7,1308.1 2201.8,1298.2 2204.9,1316.3 2208.1,1306.3 2211.2,1318.4 2214.3,1316.4 2217.4,1314.5 2220.6,1304.5 2223.7,1308.5 2226.8,1294.6 2229.9,1312.6 2233.1,1314.6 2236.2,1314.6 2239.3,1308.6 2242.5,1310.6 2245.6,1312.6 2248.7,1310.6 2251.8,1310.6 2255.0,1322.6 2258.1,1318.5 2261.2,1306.5 2264.4,1316.3 2267.5,1320.1 2270.6,1313.6 2273.7,1316.4 2276.9,1314.6 2280.0,1300.0" fill="none" stroke="#0000ff" stroke-width="11" stroke-linejoin="miter" stroke-miterlimit="8"/>
<polyline points="242.0,650.8 245.1,641.8 248.1,646.3 251.2,641.7 254.2,646.2 257.3,641.7 260.4,646.1 263.4,646.1 266.5,655.0 269.5,646.0 272.6,645.9 275.6,645.7 278.7,650.0 281.8,645.0 284.8,644.1 287.9,646.1 290.9,639.4 294.0,618.2 297.2,623.3 300.4,642.0 303.6,644.2 306.8,649.5 310.0,640.9 313.3,645.5 316.5,641.2 319.7,650.2 322.9,641.2 326.1,645.7 329.3,645.7 332.5,641.2 335.7,650.1 338.9,641.0 342.1,649.9 345.4,645.2 348.6,644.9 351.8,644.3 355.0,643.0 358.2,639.3 361.4,617.5 364.5,617.5 367.5,633.7 370.6,637.2 373.6,642.4 376.7,642.1 379.7,645.6 382.8,638.8 385.8,624.9 388.9,616.7 391.9,571.1 395.0,462.3 398.2,583.2 401.3,622.8 404.5,634.8 407.6,644.0 410.8,641.8 414.0,638.5 417.1,643.8 420.3,648.7 423.5,640.1 426.6,635.8 429.8,654.0 432.9,645.1 436.1,645.2 439.3,640.7 442.4,649.8 445.6,645.3 448.8,649.8 451.9,649.8 455.1,640.8 458.2,649.8 461.4,645.3 464.6,645.2 467.7,649.7 470.9,645.1 474.1,640.5 477.2,644.9 480.4,649.2 483.5,649.0 486.7,639.7 489.9,652.8 493.0,638.7 496.2,646.7 499.4,645.0 502.5,641.7 505.7,629.6 508.8,606.6 512.0,571.0 515.3,610.5 518.7,606.6 522.0,612.0 525.1,619.0 528.3,622.6 531.4,637.5 534.5,631.4 537.7,637.4 540.8,647.3 543.9,647.8 547.1,643.5 550.2,648.0 553.3,647.9 556.5,651.9 559.6,641.7 562.7,643.0 565.9,633.6 569.0,597.7 572.1,602.8 575.3,638.5 578.4,637.3 581.5,643.0 584.6,648.0 587.8,643.8 590.9,644.0 594.0,639.6 597.2,639.6 600.3,648.6 603.4,639.6 606.5,639.6 609.7,648.6 612.8,644.0 615.9,648.5 619.1,634.9 622.2,648.4 625.3,639.3 628.4,643.8 631.6,643.7 634.7,639.1 637.8,643.6 640.9,652.5 644.1,643.4 647.2,643.3 650.3,647.7 653.5,643.1 656.6,643.0 659.7,642.9 662.8,647.3 666.0,647.1 669.1,651.4 672.2,642.2 675.4,646.4 678.5,645.9 681.6,640.6 684.7,638.9 687.9,627.9 691.0,600.0 694.0,624.4 697.0,631.2 700.0,627.4 703.0,547.9 706.0,534.0 709.1,547.9 712.2,629.0 715.3,633.6 718.4,637.2 721.4,634.3 724.5,639.7 727.6,644.7 730.7,649.5 733.8,640.7 736.9,645.3 740.0,636.4 743.1,640.9 746.2,640.9 749.2,640.8 752.3,645.3 755.4,649.7 758.5,640.6 761.6,644.9 764.7,640.2 767.8,639.9 770.9,626.0 774.0,634.5 777.1,642.6 780.1,636.5 783.2,633.3 786.3,624.8 789.4,600.2 792.5,507.6 795.6,516.9 798.7,620.2 801.8,633.0 804.9,631.5 808.0,637.5 811.1,638.2 814.2,638.6 817.3,634.4 820.4,639.0 823.5,639.1 826.6,634.6 829.7,639.1 832.8,639.1 835.9,639.1 839.0,634.5 842.1,643.5 845.2,638.9 848.4,638.8 851.5,634.2 854.6,634.1 857.7,643.0 860.8,638.3 863.9,642.6 867.0,633.4 870.1,642.1 873.2,637.2 876.3,636.7 879.4,640.5 882.5,630.4 885.6,624.0 888.7,633.6 891.8,614.6 894.9,572.8 898.0,473.0 901.0,583.0 904.0,620.9 907.0,625.8 910.0,623.4 913.0,629.5 916.0,620.1 919.0,562.7 922.2,564.9 925.5,636.8 928.8,631.8 932.0,624.1 935.2,629.0 938.5,638.0 941.8,633.1 945.0,627.8 948.2,635.2 951.5,631.3 954.8,612.5 958.0,567.0 961.3,612.7 964.7,613.5 968.0,582.0 971.1,609.5 974.1,617.3 977.2,619.8 980.2,628.8 983.3,627.6 986.4,625.7 989.4,609.5 992.5,614.8 995.6,609.8 998.6,598.6 1001.7,593.6 1004.8,584.3 1007.8,562.4 1010.9,510.3 1013.9,377.1 1017.0,120.4 1020.1,131.5 1023.3,517.4 1026.4,559.3 1029.5,580.6 1032.7,598.4 1035.8,598.4 1038.9,609.2 1042.0,613.6 1045.2,616.4 1048.3,613.4 1051.4,612.6 1054.6,608.0 1057.7,590.7 1061.0,594.9 1064.2,620.7 1067.5,610.4 1070.7,608.6 1074.0,596.8 1077.2,536.0 1080.5,307.6 1083.6,520.6 1086.7,591.1 1089.7,605.5 1092.8,614.0 1095.9,618.9 1099.0,621.9 1102.0,624.0 1105.1,625.4 1108.2,635.3 1111.3,622.3 1114.4,631.2 1117.4,625.2 1120.5,623.2 1123.6,618.9 1126.7,624.0 1129.8,631.1 1132.9,633.3 1136.0,629.8 1139.1,630.4 1142.2,639.7 1145.3,635.5 1148.4,640.2 1151.5,635.9 1154.6,636.0 1157.7,640.6 1160.8,627.2 1163.9,640.8 1167.0,640.8 1170.1,640.9 1173.2,631.9 1176.3,645.5 1179.4,627.5 1182.5,636.5 1185.5,632.1 1188.6,641.1 1191.7,632.1 1194.8,636.6 1197.9,636.5 1201.0,632.0 1204.1,636.5 1207.2,636.4 1210.3,640.8 1213.4,640.7 1216.5,640.5 1219.6,631.3 1222.7,640.0 1225.8,635.1 1228.9,634.4 1232.0,628.8 1235.1,631.5 1238.2,618.8 1241.3,619.6 1244.4,602.1 1247.5,571.0 1250.5,597.8 1253.5,610.1 1256.5,609.9 1259.5,605.5 1262.6,611.3 1265.7,620.6 1268.8,625.9 1271.9,632.8 1275.0,625.0 1278.1,639.3 1281.2,630.7 1284.3,639.9 1287.4,631.1 1290.5,635.6 1293.5,640.0 1296.6,635.3 1299.7,639.5 1302.8,625.4 1305.9,633.4 1309.0,631.5 1312.1,627.9 1315.2,619.8 1318.3,595.8 1321.4,589.2 1324.5,596.2 1327.7,611.2 1330.8,623.8 1333.9,636.4 1337.1,633.7 1340.2,630.3 1343.3,635.5 1346.5,640.4 1349.6,645.2 1352.7,640.9 1355.9,632.1 1359.0,632.2 1362.1,645.8 1365.3,645.9 1368.4,632.5 1371.5,637.0 1374.7,632.6 1377.8,646.1 1380.9,637.1 1384.1,637.1 1387.2,641.6 1390.3,637.1 1393.5,637.2 1396.6,637.2 1399.7,637.2 1402.9,632.6 1406.0,641.6 1409.1,628.1 1412.3,641.6 1415.4,641.6 1418.5,641.6 1421.6,628.0 1424.8,637.0 1427.9,632.4 1431.0,636.9 1434.2,632.4 1437.3,636.8 1440.4,632.3 1443.6,641.2 1446.7,636.6 1449.8,641.0 1453.0,636.4 1456.1,631.7 1459.2,640.6 1462.4,640.4 1465.5,635.6 1468.6,644.3 1471.8,639.4 1474.9,639.0 1478.0,633.8 1481.2,628.5 1484.3,622.9 1487.4,625.9 1490.6,632.7 1493.7,620.5 1496.8,615.3 1500.0,606.6 1503.1,594.8 1506.2,566.4 1509.4,562.5 1512.5,472.5 1515.6,480.6 1518.8,561.7 1521.9,599.1 1525.0,610.9 1528.1,619.6 1531.2,624.7 1534.4,623.3 1537.5,629.7 1540.6,626.1 1543.8,639.0 1546.9,623.5 1550.0,596.0 1553.2,633.7 1556.3,627.9 1559.5,629.9 1562.6,630.8 1565.8,631.4 1568.9,627.2 1572.0,636.5 1575.2,641.2 1578.3,632.3 1581.5,637.0 1584.7,632.6 1587.8,637.1 1591.0,632.7 1594.1,641.8 1597.2,637.3 1600.4,641.9 1603.5,632.9 1606.7,637.4 1609.8,637.4 1613.0,637.4 1616.2,628.4 1619.3,641.8 1622.5,641.8 1625.6,637.1 1628.8,632.5 1631.9,641.2 1635.0,636.1 1638.2,634.5 1641.3,632.6 1644.5,602.0 1647.6,623.4 1650.8,629.5 1653.9,635.3 1657.1,640.1 1660.2,635.5 1663.4,635.2 1666.5,639.2 1669.7,634.0 1672.8,641.9 1676.0,631.4 1679.1,629.2 1682.3,625.7 1685.4,615.4 1688.6,605.2 1691.7,586.3 1694.9,572.0 1698.0,539.0 1701.1,572.0 1704.3,590.6 1707.4,609.5 1710.5,624.3 1713.7,625.7 1716.8,620.2 1719.9,631.5 1723.1,642.0 1726.2,634.1 1729.3,634.9 1732.4,635.4 1735.6,640.4 1738.7,636.2 1741.8,631.9 1745.0,636.6 1748.1,641.2 1751.2,641.3 1754.4,636.9 1757.5,636.9 1760.6,641.3 1763.8,641.3 1766.9,641.2 1770.0,636.5 1773.2,636.3 1776.3,636.0 1779.4,631.1 1782.6,635.1 1785.7,634.4 1788.8,628.9 1791.9,636.6 1795.1,634.6 1798.2,622.6 1801.3,626.9 1804.5,614.2 1807.6,603.2 1810.7,561.5 1813.9,496.6 1817.0,431.0 1820.2,502.1 1823.3,571.6 1826.5,604.1 1829.7,619.5 1832.8,632.1 1836.0,623.3 1839.1,630.8 1842.3,628.3 1845.5,625.2 1848.6,639.7 1851.8,635.9 1855.0,641.0 1858.1,641.5 1861.3,632.9 1864.4,633.2 1867.6,642.4 1870.8,633.6 1873.9,638.3 1877.1,643.0 1880.3,638.6 1883.4,629.7 1886.6,643.3 1889.8,638.9 1892.9,639.0 1896.1,648.1 1899.2,639.1 1902.4,643.7 1905.6,639.2 1908.7,639.3 1911.9,639.3 1915.1,643.8 1918.2,634.8 1921.4,634.8 1924.6,639.3 1927.7,639.3 1930.9,634.7 1934.0,634.6 1937.2,634.5 1940.4,634.4 1943.5,638.6 1946.7,638.3 1949.9,633.3 1953.0,637.1 1956.2,635.9 1959.3,638.2 1962.5,629.6 1965.7,624.7 1968.8,597.1 1972.0,585.0 1975.1,592.3 1978.3,619.8 1981.4,624.8 1984.5,633.4 1987.7,635.5 1990.8,636.6 1993.9,637.2 1997.1,632.8 2000.2,646.2 2003.3,641.1 2006.5,639.8 2009.6,637.0 2012.7,630.6 2015.9,626.0 2019.0,593.0 2022.2,626.0 2025.3,631.1 2028.5,628.6 2031.6,631.5 2034.8,642.0 2038.0,642.9 2041.1,638.9 2044.3,639.3 2047.5,639.5 2050.6,639.7 2053.8,639.8 2056.9,653.4 2060.1,635.5 2063.3,631.1 2066.4,649.1 2069.6,644.6 2072.8,640.1 2075.9,631.1 2079.1,649.1 2082.2,644.6 2085.4,640.0 2088.6,639.9 2091.7,644.4 2094.9,635.2 2098.1,635.1 2101.2,639.4 2104.4,630.2 2107.5,643.3 2110.7,638.4 2113.9,628.7 2117.0,636.8 2120.2,639.9 2123.4,637.7 2126.5,629.5 2129.7,623.3 2132.8,610.1 2136.0,611.0 2139.1,609.2 2142.2,625.9 2145.4,626.3 2148.5,623.4 2151.6,630.6 2154.8,618.7 2157.9,598.3 2161.0,588.6 2164.1,594.8 2167.2,629.9 2170.3,620.9 2173.4,634.1 2176.6,631.7 2179.7,633.0 2182.8,638.3 2185.9,629.9 2189.0,634.8 2192.1,644.1 2195.2,630.8 2198.3,639.9 2201.4,635.5 2204.6,644.5 2207.7,635.4 2210.8,635.0 2213.9,632.4 2217.0,626.7 2220.3,641.8 2223.5,644.0 2226.8,635.3 2230.1,639.4 2233.3,636.5 2236.6,606.0 2239.7,640.6 2242.8,639.5 2245.9,644.7 2249.0,640.4 2252.1,640.5 2255.2,645.0 2258.3,649.4 2261.4,640.2 2264.5,635.3 2267.6,634.7 2270.7,633.3 2273.8,639.0 2276.9,628.6 2280.0,606.0" fill="none" stroke="#ff0000" stroke-width="11" stroke-linejoin="miter" stroke-miterlimit="8"/>
</svg>
</body></html>
